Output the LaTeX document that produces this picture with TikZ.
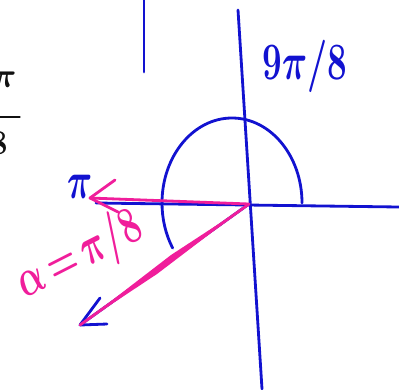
\documentclass[tikz,border=0pt]{standalone}
\usepackage{amsmath}
\newcommand{\penFont}{\fontsize{32}{34}\selectfont}
\newcommand{\tallInk}[1]{\scalebox{1}[1.5]{#1}}
\begin{document}
\begin{tikzpicture}[x=0.025cm, y=-0.025cm, line cap=round, line join=round]
    \def\inkWidth{2pt}

    \definecolor{penBlue}{HTML}{1212D0}
    \definecolor{penPink}{HTML}{F01E9B}
    \definecolor{printInk}{HTML}{111111}

    \tikzset{blueInk/.style={draw=penBlue, line width=\inkWidth},
             pinkInk/.style={draw=penPink, line width=\inkWidth},
             bigText/.style={font=\penFont, inner sep=0pt}}

    \useasboundingbox (0,0) rectangle (399,389);

    % Printed fraction, cut off at the left edge
    \node[bigText, text=printInk] (fracTop) at (4,80) {$\boldsymbol{\pi}$};
    \node[bigText, text=printInk] (fracBottom) at (-2,143) {$\mathbf{8}$};
    \draw[printInk, line width=0.8pt] (-20,117) -- (20,117);

    % Draw axes
    \coordinate (O) at (249,204);
    \draw[blueInk] (144,0) -- (144,72);
    \draw[blueInk] (238,10) -- (262,389);
    \draw[blueInk] (96,203) -- (399,207);

    % Angle arc
    \draw[blueInk] (302,203) arc[start angle=0, end angle=-212, x radius=70, y radius=85];

    % Terminal side of the angle
    \coordinate (tipAlpha) at (80,325);
    \draw[blueInk] (O) -- (tipAlpha);
    \draw[blueInk] (100,298) -- (tipAlpha) -- (107,324);
    \fill[penPink] (O) -- (171,255) -- (tipAlpha) -- (157,274) -- cycle;
    \draw[pinkInk] (O) -- (tipAlpha);

    % Arrow to pi
    \coordinate (tipPi) at (90,198);
    \draw[pinkInk] (O) -- (tipPi);
    \draw[pinkInk] (115,180) -- (tipPi) -- (118,212);

    % Labels
    \node[bigText, text=penBlue] (piLabel) at (80,187) {\tallInk{$\boldsymbol{\pi}$}};
    \node[bigText, text=penBlue, font=\fontsize{35}{37}\selectfont] (angleLabel) at (305,66) {\tallInk{$\boldsymbol{9\pi/8}$}};
    \node[bigText, text=penPink, font=\fontsize{36}{38}\selectfont, rotate=27] (alphaLabel) at (80,256) {\tallInk{$\boldsymbol{\alpha\,{=}\,\pi/8}$}};
\end{tikzpicture}
\end{document}
